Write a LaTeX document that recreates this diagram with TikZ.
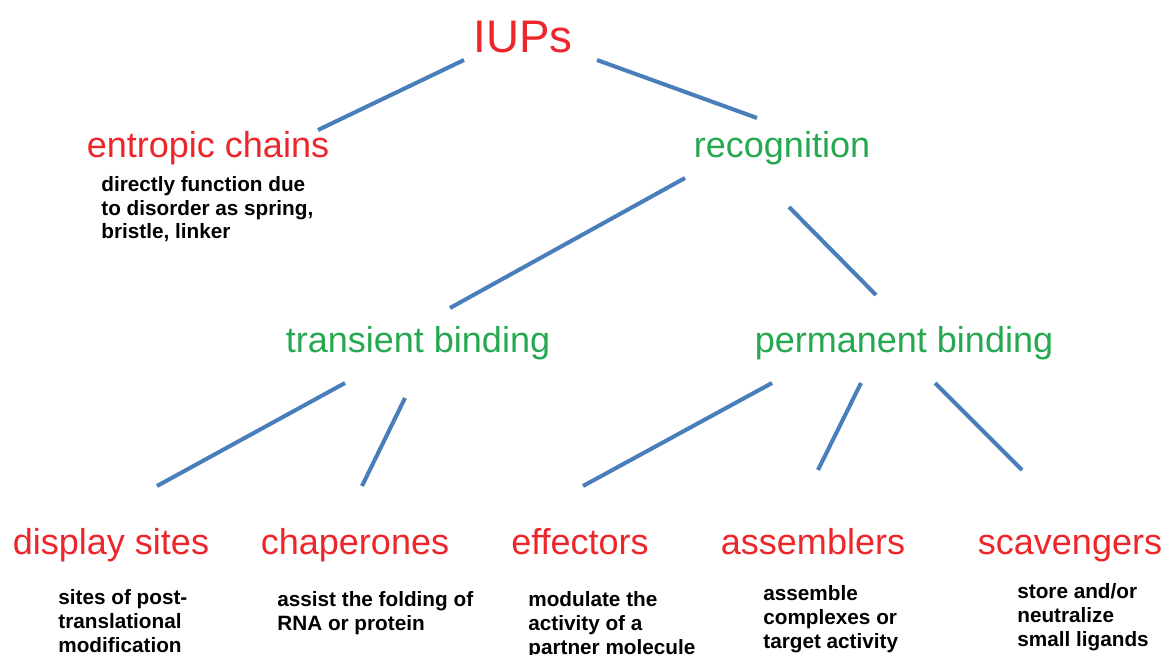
\documentclass[tikz,border=0pt]{standalone}
\usepackage{fontspec}
\setmainfont{Liberation Sans}
\usepackage{xcolor}
\usepackage{tikz}
\usetikzlibrary{positioning}
\definecolor{iupred}{RGB}{236,38,42}
\definecolor{iupgreen}{RGB}{38,168,80}
\definecolor{iupblue}{RGB}{74,126,187}

\begin{document}
\begin{tikzpicture}[x=0.02cm,y=-0.02cm,
	link/.style={iupblue,line width=2.3pt},
	kind/.style={iupred,font=\fontsize{20.5}{24}\selectfont,anchor=base,inner sep=0pt},
	mode/.style={iupgreen,font=\fontsize{20.5}{24}\selectfont,anchor=base,inner sep=0pt},
	note/.style={font=\fontsize{11.8}{13.4}\selectfont\bfseries,anchor=base west,align=left,inner sep=0pt}]
	\useasboundingbox (0,0) rectangle (1164,655);
	% labels
	\node[kind,font=\fontsize{26}{30}\selectfont] (iups) at (523,53) {IUPs};
	\node[kind] (entropic) at (208,158) {entropic chains};
	\node[mode] (recog) at (782,158) {recognition};
	\node[mode] (transient) at (418,353) {transient binding};
	\node[mode] (permanent) at (904,353) {permanent binding};
	\node[kind] (display) at (111,554) {display sites};
	\node[kind] (chaperones) at (355,554) {chaperones};
	\node[kind] (effectors) at (580,554) {effectors};
	\node[kind] (assemblers) at (813,554) {assemblers};
	\node[kind] (scavengers) at (1070,554) {scavengers};
	% notes (placed by the baseline of their last line)
	\node[note] (entropic-note) at (101,239) {directly function due\\to disorder as spring,\\bristle, linker};
	\node[note] (display-note) at (58,652) {sites of post-\\translational\\modification};
	\node[note] (chaperones-note) at (277,630) {assist the folding of\\RNA or protein};
	\node[note] (effectors-note) at (528,654) {modulate the\\activity of a\\partner molecule};
	\node[note] (assemblers-note) at (763,648) {assemble\\complexes or\\target activity};
	\node[note] (scavengers-note) at (1017,646) {store and/or\\neutralize\\small ligands};
	% line ends
	\coordinate (iups-l) at (464,60);
	\coordinate (entropic-t) at (318,130);
	\coordinate (iups-r) at (597,60);
	\coordinate (recog-t) at (757,118);
	\coordinate (recog-l) at (685,178);
	\coordinate (transient-t) at (450,308);
	\coordinate (recog-r) at (789,207);
	\coordinate (permanent-t) at (876,295);
	\coordinate (transient-l) at (345,383);
	\coordinate (display-t) at (157,486);
	\coordinate (transient-r) at (405,398);
	\coordinate (chaperones-t) at (362,486);
	\coordinate (permanent-l) at (772,383);
	\coordinate (effectors-t) at (583,486);
	\coordinate (permanent-m) at (861,383);
	\coordinate (assemblers-t) at (818,470);
	\coordinate (permanent-r) at (935,383);
	\coordinate (scavengers-t) at (1022,470);
	% connectors
	\draw[link] (iups-l)--(entropic-t);
	\draw[link] (iups-r)--(recog-t);
	\draw[link] (recog-l)--(transient-t);
	\draw[link] (recog-r)--(permanent-t);
	\draw[link] (transient-l)--(display-t);
	\draw[link] (transient-r)--(chaperones-t);
	\draw[link] (permanent-l)--(effectors-t);
	\draw[link] (permanent-m)--(assemblers-t);
	\draw[link] (permanent-r)--(scavengers-t);
\end{tikzpicture}
\end{document}
